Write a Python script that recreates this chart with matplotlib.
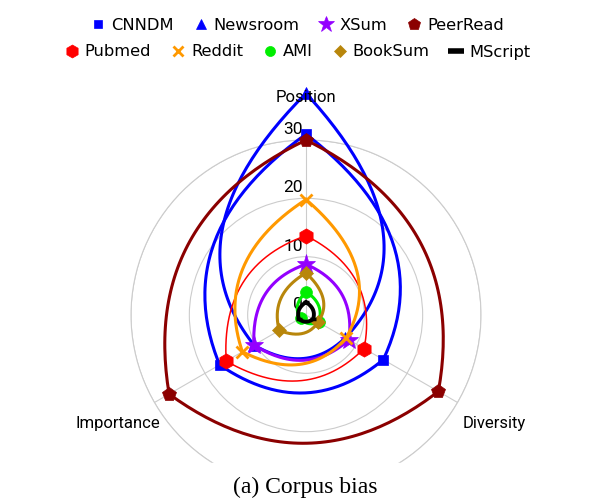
import numpy as np
import matplotlib
matplotlib.use('Agg')
import matplotlib.pyplot as plt
from matplotlib.lines import Line2D
from matplotlib.patches import Rectangle

# axes of the radar, counter-clockwise from the top
categories = ['Position', 'Importance', 'Diversity']
r_ticks = [0, 10, 20, 30]

# one value per axis: Position, Importance, Diversity
cnndm = [31.0, 17.1, 15.3]
newsroom = [38.0, 10.3, 7.8]
xsum = [8.7, 10.3, 8.5]
peerread = [30.0, 27.1, 26.2]
pubmed = [13.6, 15.8, 11.5]
reddit = [19.8, 12.6, 7.9]
ami = [4.0, 1.0, 2.5]
booksum = [7.2, 5.3, 2.4]
mscript = [2.2, 1.4, 1.4]

names = ['CNNDM', 'Newsroom', 'XSum', 'PeerRead', 'Pubmed', 'Reddit',
         'AMI', 'BookSum', 'MScript']
series = [cnndm, newsroom, xsum, peerread, pubmed, reddit, ami, booksum,
          mscript]

# colour, marker, marker size, line width
STYLE = {
    'CNNDM':    ('#0000ff', 's', 7.5, 2.2),
    'Newsroom': ('#0000ff', '^', 9.0, 2.2),
    'XSum':     ('#9400ff', '*', 14.0, 2.2),
    'PeerRead': ('#8b0000', 'p', 10.5, 2.2),
    'Pubmed':   ('#ff0000', 'h', 11.0, 1.1),
    'Reddit':   ('#ff9900', 'x', 9.0, 2.2),
    'AMI':      ('#00ee00', 'o', 8.5, 2.2),
    'BookSum':  ('#b8860b', 'D', 7.0, 2.2),
    'MScript':  ('#000000', '_', 4.0, 2.8),
}

BULGE = 1.15  # control point radius relative to the mean of the two ends


def curved_edges(vals, n=60):
    """Each edge is a quadratic Bezier whose control point sits on the
    bisecting angle, so every corner stays a corner."""
    k = len(vals)
    ang = np.pi / 2 + np.arange(k + 1) * 2 * np.pi / k
    rv = list(vals) + [vals[0]]
    t = np.linspace(0, 1, n)[:, None]
    out = []
    for i in range(k):
        a = rv[i] * np.array([np.cos(ang[i]), np.sin(ang[i])])
        b = rv[i + 1] * np.array([np.cos(ang[i + 1]), np.sin(ang[i + 1])])
        am = (ang[i] + ang[i + 1]) / 2
        rc = BULGE * (rv[i] + rv[i + 1]) / 2
        c = rc * np.array([np.cos(am), np.sin(am)])
        seg = (1 - t) ** 2 * a + 2 * t * (1 - t) * c + t ** 2 * b
        out.append(seg if i == 0 else seg[1:])
    xy = np.vstack(out)
    th = np.unwrap(np.arctan2(xy[:, 1], xy[:, 0]) - np.pi / 2)
    return th, np.hypot(xy[:, 0], xy[:, 1])


W, H = 613, 504
fig = plt.figure(figsize=(W / 100, H / 100), dpi=100)
cx, cy, rad = 306, 315, 175
ax = fig.add_axes([(cx - rad) / W, (H - cy - rad) / H, 2 * rad / W,
                   2 * rad / H], projection='polar')
ax.set_theta_offset(np.pi / 2)
ax.set_ylim(0, r_ticks[-1])
theta_axes = np.arange(len(categories)) * 2 * np.pi / len(categories)
ax.set_xticks(theta_axes)
ax.set_xticklabels([])
ax.set_yticks(r_ticks)
ax.set_yticklabels([])
ax.grid(color='#cccccc', linewidth=0.8)
ax.spines['polar'].set_color('#cccccc')
ax.spines['polar'].set_linewidth(0.8)
ax.tick_params(length=0)

for r in r_ticks:
    ax.annotate(str(r), (0, r), xytext=(-3, 3), textcoords='offset pixels',
                ha='right', va='bottom', fontsize=12.5, family='Roboto',
                zorder=1)

for th, lab in zip(theta_axes, categories):
    ax.text(th, 37.2, lab, ha='center', va='center', fontsize=12,
            family='Roboto', zorder=40)

z = 3
for name, vals in zip(names, series):
    col, mk, ms, lw = STYLE[name]
    th, rr = curved_edges(vals)
    ax.plot(th, rr, color=col, lw=lw, clip_on=False, zorder=z)
    mew = 2.0 if mk == 'x' else 0.5
    if name == 'MScript':
        mew = 2.5
    ax.plot(theta_axes, vals, linestyle='none', marker=mk, ms=ms,
            color=col, mec=col, mew=mew, clip_on=False, zorder=z + 1)
    z += 2

handles = []
for name in names:
    col, mk, ms, lw = STYLE[name]
    mew = 2.0 if mk == 'x' else 0.5
    lms = ms * 0.85
    if name == 'MScript':
        mew, lms = 4, 11
    handles.append(Line2D([], [], linestyle='none', marker=mk, ms=lms,
                          color=col, mec=col, mew=mew, label=name))

kw = dict(frameon=False, handletextpad=0.3, columnspacing=1.15,
          prop={'family': 'DejaVu Sans', 'size': 11.7}, handlelength=1.0,
          borderaxespad=0, borderpad=0)
fig.legend(handles=handles[:4], ncol=4, loc='center',
           bbox_to_anchor=(297 / W, 1 - 25 / H), **kw)
fig.legend(handles=handles[4:], ncol=5, loc='center',
           bbox_to_anchor=(297 / W, 1 - 52 / H), **kw)

# the figure panel is cut off above the caption
fig.patches.append(Rectangle((0, 0), 1, (H - 463) / H,
                             transform=fig.transFigure, color='white',
                             zorder=50))
fig.text(305 / W, 1 - 487 / H, '(a) Corpus bias', ha='center', va='center',
         fontsize=17, family='Liberation Serif', zorder=51)

fig.savefig('out.png', dpi=100, facecolor='white')
